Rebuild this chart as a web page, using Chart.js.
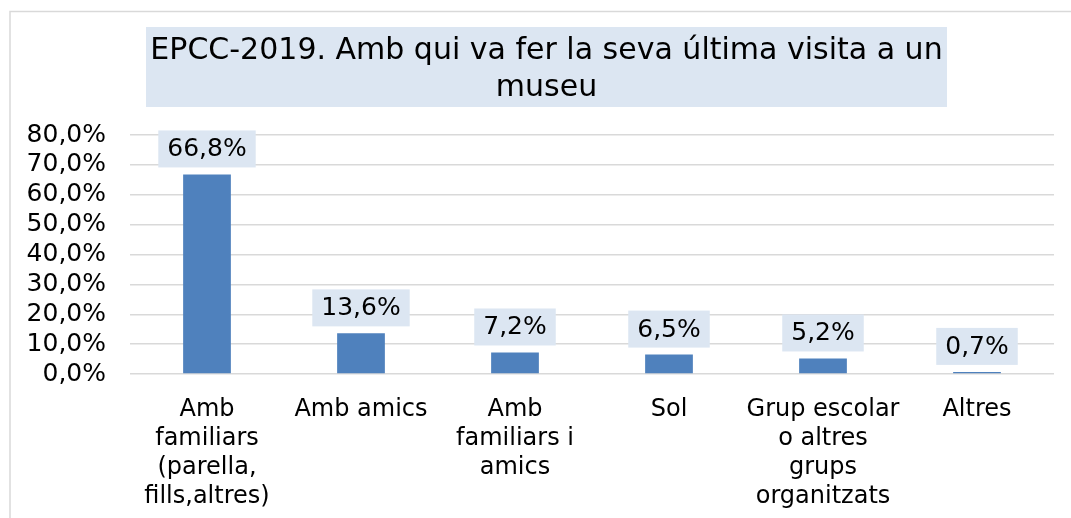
<!DOCTYPE html>
<html>
<head>
<meta charset="utf-8">
<script src="https://cdn.jsdelivr.net/npm/chart.js@4/dist/chart.umd.min.js"></script>
<style>
  html, body { margin: 0; padding: 0; background: #ffffff; }
  #wrap { position: relative; width: 1071px; height: 518px; }
</style>
</head>
<body>
<div id="wrap"><canvas id="c" width="1071" height="518"></canvas></div>
<script>
const titleLines = ["EPCC-2019. Amb qui va fer la seva última visita a un", "museu"];
const categories = [
  ["Amb", "familiars", "(parella,", "fills,altres)"],
  "Amb amics",
  ["Amb", "familiars i", "amics"],
  "Sol",
  ["Grup escolar", "o altres", "grups", "organitzats"],
  "Altres"
];
const values = [66.8, 13.6, 7.2, 6.5, 5.2, 0.7];
const yTicks = [0, 10, 20, 30, 40, 50, 60, 70, 80];

const FONT = "'DejaVu Sans', Verdana, sans-serif";
const fmt = v => v.toFixed(1).replace('.', ',') + '%';

const framePlugin = {
  id: 'frame',
  beforeDraw(chart) {
    const ctx = chart.ctx;
    ctx.save();
    ctx.fillStyle = '#ffffff';
    ctx.fillRect(0, 0, chart.width, chart.height);
    ctx.strokeStyle = '#D9D9D9';
    ctx.lineWidth = 1.5;
    ctx.beginPath();
    ctx.moveTo(10, chart.height);
    ctx.lineTo(10, 11.5);
    ctx.lineTo(chart.width, 11.5);
    ctx.stroke();
    // title box
    ctx.fillStyle = '#DCE6F2';
    ctx.fillRect(146, 27, 801, 80);
    ctx.fillStyle = '#000000';
    ctx.font = '30px ' + FONT;
    ctx.textAlign = 'center';
    ctx.textBaseline = 'middle';
    const cx = 546.5;
    ctx.fillText(titleLines[0], cx, 51);
    ctx.fillText(titleLines[1], cx, 88);
    ctx.restore();
  }
};

const labelPlugin = {
  id: 'barLabels',
  afterDatasetsDraw(chart) {
    const ctx = chart.ctx;
    const meta = chart.getDatasetMeta(0);
    ctx.save();
    ctx.font = '25px ' + FONT;
    ctx.textAlign = 'center';
    ctx.textBaseline = 'middle';
    meta.data.forEach((bar, i) => {
      const txt = fmt(chart.data.datasets[0].data[i]);
      const w = ctx.measureText(txt).width + 18;
      const h = 37;
      const bottom = bar.y - 7;
      ctx.fillStyle = '#DCE6F2';
      ctx.fillRect(bar.x - w / 2, bottom - h, w, h);
      ctx.fillStyle = '#000000';
      ctx.fillText(txt, bar.x, bottom - h / 2 + 1);
    });
    ctx.restore();
  }
};

new Chart(document.getElementById('c'), {
  type: 'bar',
  data: {
    labels: categories,
    datasets: [{
      data: values,
      backgroundColor: '#4F81BD',
      borderWidth: 0,
      categoryPercentage: 1,
      barPercentage: 0.31
    }]
  },
  options: {
    responsive: false,
    animation: false,
    events: [],
    layout: { padding: { top: 135, left: 0, right: 17, bottom: 0 } },
    plugins: {
      legend: { display: false },
      title: { display: false },
      tooltip: { enabled: false }
    },
    scales: {
      x: {
        grid: { display: false, drawTicks: false },
        border: { display: false },
        ticks: {
          color: '#000000',
          font: { family: FONT, size: 24, lineHeight: 1.21 },
          padding: 21,
          maxRotation: 0,
          autoSkip: false
        },
        afterFit(s) { s.height = 144; }
      },
      y: {
        min: 0,
        max: 80,
        afterBuildTicks(s) { s.ticks = yTicks.map(v => ({ value: v })); },
        grid: { color: '#D9D9D9', lineWidth: 1.5, drawTicks: false },
        border: { display: false },
        ticks: {
          color: '#000000',
          font: { family: FONT, size: 25 },
          padding: 24,
          autoSkip: false,
          callback: v => fmt(v)
        },
        afterFit(s) { s.width = 130; }
      }
    }
  },
  plugins: [framePlugin, labelPlugin]
});
</script>
</body>
</html>
